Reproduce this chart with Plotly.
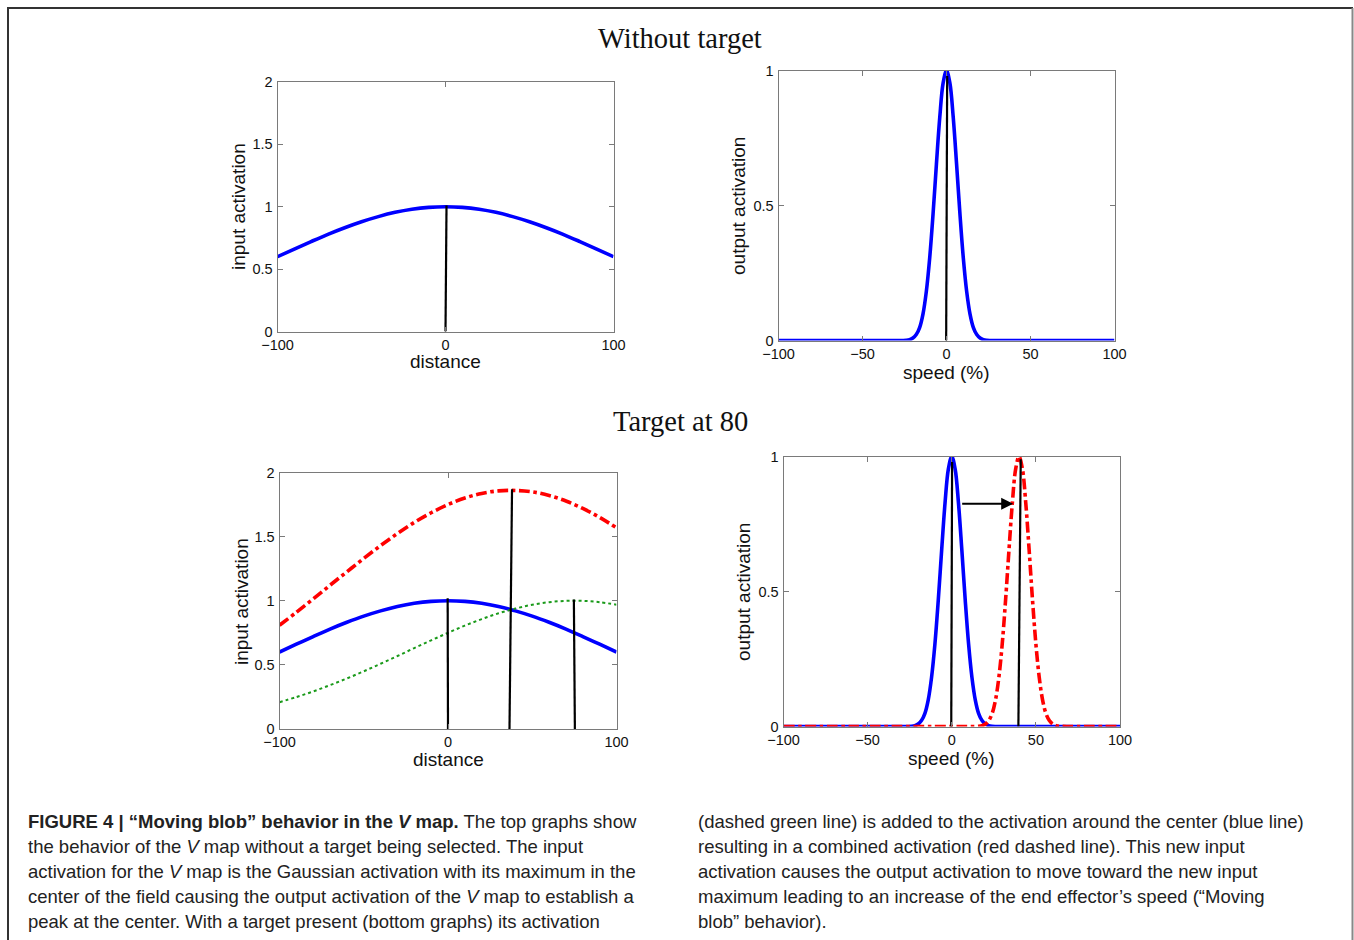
import plotly.graph_objects as go

W, H = 1354, 940

# ---------------- data ----------------
dist_x = [-100, -90, -80, -70, -60, -50, -40, -30, -20, -10, 0,
          10, 20, 30, 40, 50, 60, 70, 80, 90, 100]
input_center = [0.600, 0.661, 0.721, 0.779, 0.832, 0.880, 0.921, 0.955, 0.980, 0.995, 1.000,
                0.995, 0.980, 0.955, 0.921, 0.880, 0.832, 0.779, 0.721, 0.661, 0.600]
input_target = [0.209, 0.249, 0.293, 0.342, 0.394, 0.450, 0.509, 0.569, 0.631, 0.691, 0.750,
                0.806, 0.857, 0.902, 0.939, 0.969, 0.989, 0.999, 0.999, 0.989, 0.969]
input_combined = [0.809, 0.910, 1.014, 1.121, 1.226, 1.330, 1.430, 1.524, 1.611, 1.686, 1.750,
                  1.801, 1.837, 1.857, 1.860, 1.849, 1.821, 1.778, 1.720, 1.650, 1.569]

speed_x = [-100, -60, -30, -24, -22, -20, -18, -16, -14, -12, -10, -8, -6, -4, -2, 0,
           2, 4, 6, 8, 10, 12, 14, 16, 18, 20, 22, 24, 30, 60, 100]
output_center = [0, 0, 0, 0.001, 0.003, 0.009, 0.022, 0.048, 0.098, 0.182, 0.306, 0.469, 0.653, 0.827, 0.954, 1.0,
                 0.954, 0.827, 0.653, 0.469, 0.306, 0.182, 0.098, 0.048, 0.022, 0.009, 0.003, 0.001, 0, 0, 0]
speed_x2 = [-100, -60, -20, 0, 10, 16, 18, 20, 22, 24, 26, 28, 30, 32, 34, 36, 38, 40,
            42, 44, 46, 48, 50, 52, 54, 56, 58, 60, 62, 64, 70, 100]
output_moved = [0, 0, 0, 0, 0, 0.001, 0.003, 0.009, 0.022, 0.048, 0.098, 0.182, 0.306, 0.469, 0.653, 0.827, 0.954, 1.0,
                0.954, 0.827, 0.653, 0.469, 0.306, 0.182, 0.098, 0.048, 0.022, 0.009, 0.003, 0.001, 0, 0]

# vertical marker lines: (x bottom, x top, y top)
markers_top_left = [(0, 0.6, 1.01)]
markers_top_right = [(-0.2, 0.4, 0.98)]
markers_bot_left = [(0, -0.2, 1.02), (36.5, 38.0, 1.87), (75.3, 74.7, 1.01)]
markers_bot_right = [(-0.3, 0.2, 0.98), (39.6, 41.0, 0.99)]
arrow_y = 0.825
arrow_from, arrow_to = 5.3, 36.5

dist_ticks = [-100, 0, 100]
input_ticks = [0, 0.5, 1, 1.5, 2]
speed_ticks = [-100, -50, 0, 50, 100]
output_ticks = [0, 0.5, 1]

titles = ["Without target", "Target at 80"]
caption_left = [
    "<b>FIGURE 4 | “Moving blob” behavior in the <i>V</i> map.</b> The top graphs show",
    "the behavior of the <i>V</i> map without a target being selected. The input",
    "activation for the <i>V</i> map is the Gaussian activation with its maximum in the",
    "center of the field causing the output activation of the <i>V</i> map to establish a",
    "peak at the center. With a target present (bottom graphs) its activation",
]
caption_right = [
    "(dashed green line) is added to the activation around the center (blue line)",
    "resulting in a combined activation (red dashed line). This new input",
    "activation causes the output activation to move toward the new input",
    "maximum leading to an increase of the end effector’s speed (“Moving",
    "blob” behavior).",
]

# ---------------- helpers ----------------
def px(x):
    return x / W

def py(y):
    return 1 - y / H

BLUE = "#0000ff"
RED = "#ff0000"
GREEN = "#1a9a1a"
AXC = "#7a7a7a"
TICKF = dict(family="Liberation Sans, Arial, sans-serif", size=14.5, color="#111")
LABF = dict(family="Liberation Sans, Arial, sans-serif", size=19, color="#111")

fig = go.Figure()

# panel domains (pixels: left, right, top, bottom)
boxes = {
    1: (277.5, 613.5, 82, 331.5),
    2: (778.5, 1114.5, 70.5, 340.5),
    3: (279.5, 616.5, 472.5, 729),
    4: (783.5, 1120, 456.5, 726.5),
}

def add_line(i, x, y, color, width, dash="solid", shape="spline"):
    fig.add_trace(go.Scatter(x=x, y=y, mode="lines", xaxis=f"x{i}", yaxis=f"y{i}",
                             line=dict(color=color, width=width, dash=dash, shape=shape),
                             showlegend=False, hoverinfo="skip"))

def add_markers(i, marks):
    for xb, xt, yt in marks:
        add_line(i, [xb, xt], [0, yt], "#000", 2.2, shape="linear")

# panel 1
add_line(1, dist_x, input_center, BLUE, 3.6)
add_markers(1, markers_top_left)
# panel 2
add_line(2, speed_x, output_center, BLUE, 3.6)
add_markers(2, markers_top_right)
# panel 3
add_line(3, dist_x, input_center, BLUE, 3.6)
add_line(3, dist_x, input_target, GREEN, 2, dash="dot")
add_line(3, dist_x, input_combined, RED, 3.6, dash="dashdot")
add_markers(3, markers_bot_left)
# panel 4
add_line(4, speed_x, output_center, BLUE, 3.6)
add_line(4, speed_x2, output_moved, RED, 3.6, dash="dashdot")
add_markers(4, markers_bot_right)

layout = dict(width=W, height=H, margin=dict(l=0, r=0, t=0, b=0, pad=0, autoexpand=False),
              autosize=False, template="none",
              paper_bgcolor="white", plot_bgcolor="white", showlegend=False)

axis_common = dict(showgrid=False, zeroline=False, showline=True, linecolor=AXC, linewidth=1,
                   mirror="ticks", ticks="inside", ticklen=5, tickcolor=AXC, tickwidth=1,
                   tickfont=TICKF, fixedrange=True, automargin=False)

specs = {
    1: ([-100, 100], dist_ticks, [0, 2], input_ticks),
    2: ([-100, 100], speed_ticks, [0, 1], output_ticks),
    3: ([-100, 100], dist_ticks, [0, 2], input_ticks),
    4: ([-100, 100], speed_ticks, [0, 1], output_ticks),
}
for i, (xr, xt, yr, yt) in specs.items():
    l, r, t, b = boxes[i]
    sfx = "" if i == 1 else str(i)
    layout[f"xaxis{sfx}"] = dict(axis_common, domain=[px(l), px(r)], range=xr, tickvals=xt,
                                 anchor=f"y{i}", ticklabelstandoff=0)
    layout[f"yaxis{sfx}"] = dict(axis_common, domain=[py(b), py(t)], range=yr, tickvals=yt,
                                 anchor=f"x{i}", ticklabelstandoff=1)

fig.update_layout(**layout)

ann = []
# axis titles
axis_titles = [
    ("distance", 445, 361.5, 0), ("input activation", 238, 207, -90),
    ("speed (%)", 946, 372, 0), ("output activation", 738, 206, -90),
    ("distance", 448, 759.5, 0), ("input activation", 241, 601, -90),
    ("speed (%)", 951, 758, 0), ("output activation", 743, 592, -90),
]
for txt, x, y, rot in axis_titles:
    ann.append(dict(text=txt, x=px(x), y=py(y), xref="paper", yref="paper", showarrow=False,
                    xanchor="center", yanchor="middle", textangle=rot, font=LABF))
# panel group titles
for txt, y in zip(titles, [38, 422]):
    ann.append(dict(text=txt, x=px(680), y=py(y), xref="paper", yref="paper", showarrow=False,
                    xanchor="center", yanchor="middle",
                    font=dict(family="Liberation Serif, DejaVu Serif, serif", size=28.5, color="#111")))
# arrow in panel 4
ann.append(dict(x=arrow_to, y=arrow_y, ax=arrow_from, ay=arrow_y, xref="x4", yref="y4",
                axref="x4", ayref="y4", showarrow=True, arrowhead=2, arrowsize=1.2,
                arrowwidth=2, arrowcolor="#000", text=""))
# caption
CAPF = dict(family="Liberation Sans, Arial, sans-serif", size=18.5, color="#222")
for k, line in enumerate(caption_left):
    ann.append(dict(text=line, x=px(26), y=py(821 + 25 * k), xref="paper", yref="paper",
                    showarrow=False, xanchor="left", yanchor="middle", align="left", font=CAPF))
for k, line in enumerate(caption_right):
    ann.append(dict(text=line, x=px(696), y=py(821 + 25 * k), xref="paper", yref="paper",
                    showarrow=False, xanchor="left", yanchor="middle", align="left", font=CAPF))
fig.update_layout(annotations=ann)

# outer frame (open at the bottom)
shapes = [
    dict(type="line", xref="paper", yref="paper", x0=px(8), y0=0, x1=px(8), y1=py(8),
         line=dict(color="#333", width=2)),
    dict(type="line", xref="paper", yref="paper", x0=px(7), y0=py(8), x1=px(1353), y1=py(8),
         line=dict(color="#333", width=2)),
    dict(type="line", xref="paper", yref="paper", x0=px(1352.5), y0=0, x1=px(1352.5), y1=py(8),
         line=dict(color="#888", width=2)),
]
fig.update_layout(shapes=shapes)

fig.write_html("out.html", config={"displayModeBar": False, "staticPlot": True},
               post_script="document.body.style.margin='0';document.body.style.overflow='hidden';")
